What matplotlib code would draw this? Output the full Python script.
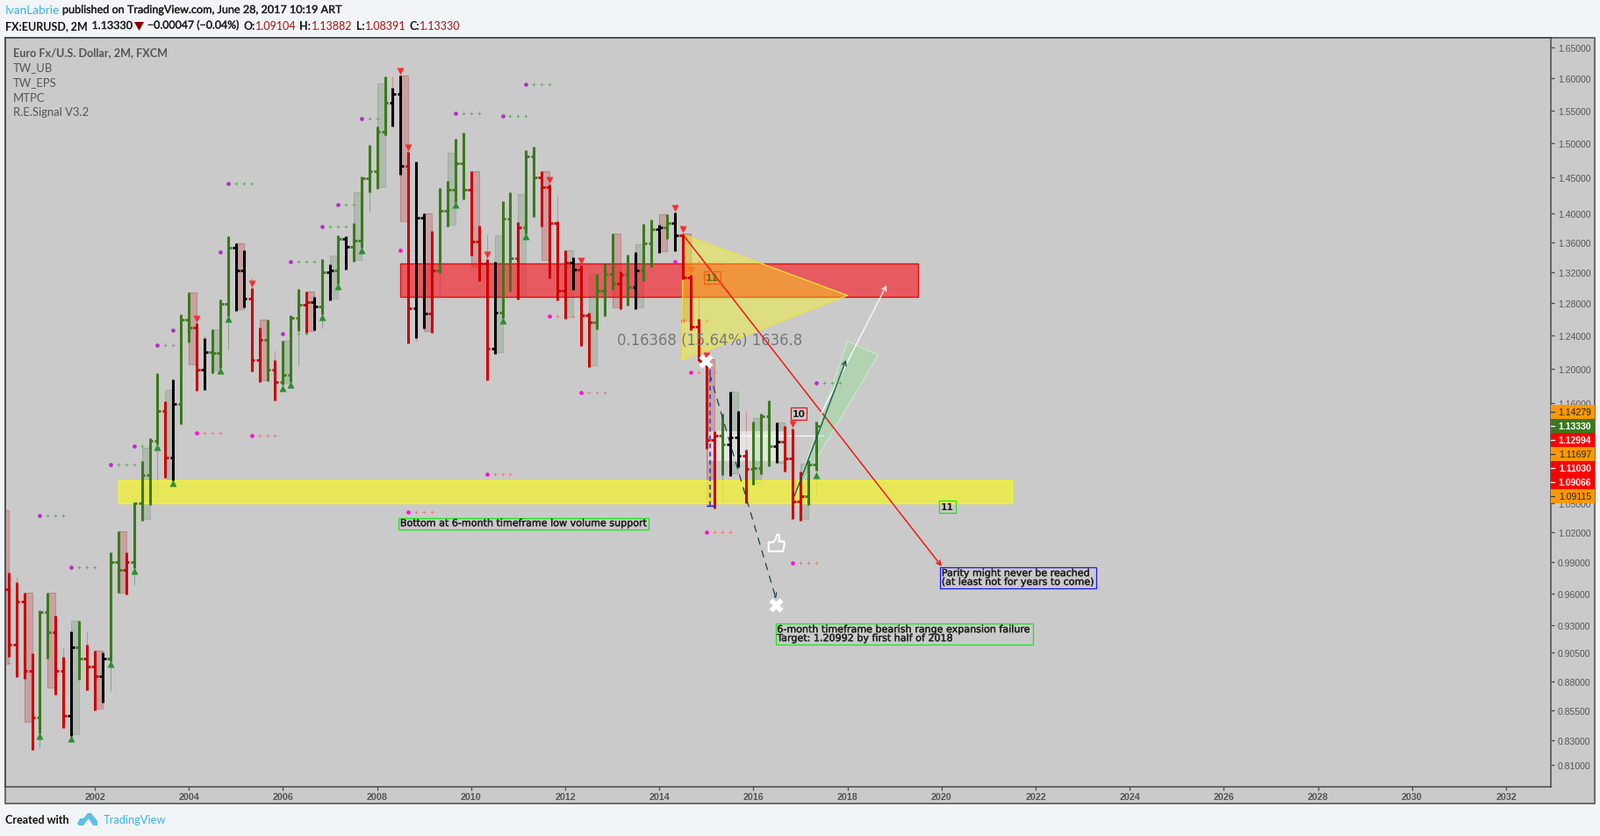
import matplotlib
matplotlib.use('Agg')
import matplotlib.pyplot as plt
import matplotlib.patheffects as pe
from matplotlib.patches import Rectangle, Polygon
from matplotlib.path import Path
from matplotlib.ticker import FixedLocator, NullLocator

# 2 month OHLC, first bar is Mar 2000
first_open = 0.9637
highs = [0.9797, 0.9706, 0.9606, 0.9045, 0.9439, 0.9606, 0.9390, 0.9013, 0.9244, 0.9341, 0.9124, 0.9068, 0.9053,
         0.9998, 1.0209, 0.9998, 1.0504, 1.0946, 1.1197, 1.1943, 1.1611, 1.1867, 1.2657, 1.2936, 1.2547, 1.2366,
         1.2474, 1.2845, 1.3681, 1.3582, 1.3492, 1.2996, 1.2496, 1.2594, 1.2100, 1.2330, 1.2649, 1.2981, 1.2947,
         1.2879, 1.3375, 1.3302, 1.3689, 1.3677, 1.3861, 1.4512, 1.4975, 1.5256, 1.6028, 1.5851, 1.6046, 1.4875,
         1.4729, 1.3994, 1.3752, 1.4353, 1.4453, 1.5070, 1.5163, 1.4592, 1.3824, 1.3375, 1.3340, 1.4166, 1.4290,
         1.3873, 1.4901, 1.4953, 1.4592, 1.4403, 1.3885, 1.3492, 1.3398, 1.3293, 1.2682, 1.3178, 1.3316, 1.3717,
         1.3213, 1.3433, 1.3468, 1.3849, 1.3909, 1.3837, 1.3982, 1.4007, 1.3717, 1.3164, 1.2605, 1.2100, 1.1272,
         1.1473, 1.1726, 1.1504, 1.1068, 1.1383, 1.1473, 1.1624, 1.1373, 1.1334, 1.1305, 1.0832, 1.0953, 1.13882]
lows = [0.9016, 0.8837, 0.8822, 0.8220, 0.8358, 0.8998, 0.8685, 0.8402, 0.8336, 0.8814, 0.8722, 0.8550, 0.8617,
        0.8976, 0.9608, 0.9591, 0.9844, 1.0319, 1.0482, 1.1132, 1.0766, 1.0735, 1.1354, 1.2316, 1.1739, 1.1749,
        1.1946, 1.2005, 1.2638, 1.2708, 1.2749, 1.1966, 1.1842, 1.1852, 1.1627, 1.1807, 1.1839, 1.2452, 1.2433,
        1.2466, 1.2660, 1.2841, 1.3056, 1.3239, 1.3343, 1.3530, 1.4294, 1.4344, 1.5127, 1.5260, 1.4545, 1.2305,
        1.2369, 1.2485, 1.2433, 1.3193, 1.3816, 1.4154, 1.4195, 1.3425, 1.3090, 1.1860, 1.2177, 1.2619, 1.2954,
        1.2852, 1.3720, 1.3950, 1.3812, 1.3121, 1.2838, 1.2605, 1.2973, 1.2270, 1.2016, 1.2474, 1.2638, 1.2973,
        1.2726, 1.2771, 1.2726, 1.3087, 1.3270, 1.3457, 1.3645, 1.3480, 1.3110, 1.2466, 1.2086, 1.1084, 1.0443,
        1.0794, 1.0788, 1.0882, 1.0501, 1.0694, 1.0804, 1.0889, 1.0927, 1.0832, 1.0334, 1.0319, 1.0482, 1.08391]
closes = [0.9122, 0.9520, 0.8886, 0.8486, 0.9420, 0.9234, 0.8886, 0.8501, 0.9098, 0.8995, 0.8925, 0.8846, 0.8995,
          0.9900, 0.9823, 0.9900, 1.0495, 1.0791, 1.1165, 1.1501, 1.0981, 1.1581, 1.2591, 1.2493, 1.1981, 1.2192,
          1.2181, 1.2797, 1.3523, 1.3221, 1.2860, 1.2097, 1.2341, 1.1981, 1.1835, 1.1918, 1.2619, 1.2779, 1.2812,
          1.2757, 1.3198, 1.3221, 1.3642, 1.3535, 1.3621, 1.4487, 1.4592, 1.5176, 1.5614, 1.5751, 1.4665, 1.2734,
          1.3930, 1.2668, 1.3221, 1.4027, 1.4324, 1.4704, 1.4324, 1.3606, 1.3313, 1.2234, 1.2679, 1.3918, 1.3383,
          1.3796, 1.4806, 1.4500, 1.4365, 1.3861, 1.2958, 1.3328, 1.3232, 1.2646, 1.2558, 1.2958, 1.3175, 1.3049,
          1.3164, 1.3004, 1.3221, 1.3582, 1.3773, 1.3800, 1.3861, 1.3689, 1.3129, 1.2503, 1.2093, 1.1181, 1.1223,
          1.1132, 1.1204, 1.1003, 1.0860, 1.0867, 1.1440, 1.1107, 1.1155, 1.0972, 1.0513, 1.0568, 1.09104, 1.13330]
bar_kinds = list('rrrrggrrkgrrkggrggggrkggrkgggkkrrgrgggrkgkgkgggggkkrkkrggggrrrkggrggrrrrkrrgggrgkggkgkrrrrrgkkrgggkrrrgg')

# 6 month bodies drawn behind the bars
box_bars = [-1, 2, 5, 8, 11, 14, 17, 20, 23, 26, 29, 32, 35, 38, 41, 44, 47, 50, 53, 56, 59, 62, 65, 68, 71, 74, 77,
            80, 83, 86, 89, 92, 95, 98, 101]
box_tops = [1.0425, 0.9606, 0.9606, 0.9341, 0.9068, 1.0209, 1.1090, 1.1746, 1.2939, 1.2474, 1.3582, 1.2594, 1.2333,
            1.2950, 1.3422, 1.4290, 1.5921, 1.6042, 1.3994, 1.4862, 1.4592, 1.3693, 1.4265, 1.4592, 1.3492, 1.3178,
            1.3717, 1.3574, 1.3982, 1.3717, 1.2110, 1.1726, 1.1420, 1.1373, 1.0915]
box_bottoms = [0.8951, 0.8451, 0.8745, 0.8350, 0.8565, 0.9608, 1.0337, 1.0760, 1.2050, 1.1971, 1.2729, 1.1859, 1.1831,
               1.2455, 1.2863, 1.3367, 1.4369, 1.3888, 1.2455, 1.3840, 1.3274, 1.2198, 1.2879, 1.3367, 1.2630, 1.2040,
               1.2752, 1.2752, 1.3484, 1.2583, 1.0468, 1.0810, 1.0712, 1.0927, 1.0337]
box_kinds = list('rrrgrrggrgrrgrgggrrgrggrggrgrrrgggg')

# R.E.Signal markers
down_bars = [24, 31, 50, 51, 61, 69, 73, 85, 86, 87, 89, 100]
down_prices = [1.2605, 1.3052, 1.6116, 1.4940, 1.3433, 1.4466, 1.3351, 1.4068, 1.3776, 1.3224, 1.2153, 1.1354]
up_bars = [4, 8, 13, 16, 19, 21, 27, 28, 35, 36, 40, 42, 45, 57, 63, 66, 103]
up_prices = [0.8333, 0.8312, 0.8951, 0.9817, 1.1100, 1.0710, 1.1974, 1.2605, 1.1767, 1.1807, 1.2627, 1.3018, 1.3492,
             1.4117, 1.2583, 1.3681, 1.0794]
green_stems = [(4, 0.8333, 0.8232), (13, 0.8927, 0.8713), (16, 0.9800, 0.9681), (19, 1.1080, 1.0562),
               (28, 1.2583, 1.2227), (37, 1.2452, 1.2037), (40, 1.2594, 1.2485), (46, 1.4290, 1.4018),
               (55, 1.3190, 1.2882), (91, 1.0794, 1.0516), (103, 1.0785, 1.0571)]
pink_stems = [(1, 0.9757, 0.9706), (7, 0.9092, 0.9013), (10, 0.9244, 0.9124), (25, 1.2398, 1.2366),
              (31, 1.3132, 1.2996), (34, 1.2216, 1.2100), (49, 1.6032, 1.5851), (52, 1.2366, 1.2323),
              (61, 1.3705, 1.3375), (70, 1.4253, 1.3885), (88, 1.2894, 1.2605), (94, 1.1504, 1.1068)]
green_dot_bars = [4, 8, 13, 16, 19, 21, 27, 28, 35, 36, 40, 42, 45, 57, 63, 66, 103]
green_dot_prices = [1.0371, 0.9851, 1.0908, 1.1110, 1.2280, 1.2463, 1.3468, 1.4415, 1.2419, 1.3340, 1.3812, 1.4117,
                    1.5375, 1.5456, 1.5415, 1.5907, 1.1828]
red_dot_bars = [-1, 24, 31, 50, 51, 61, 69, 73, 85, 86, 87, 89, 100]
red_dot_prices = [0.8958, 1.1255, 1.1226, 1.3492, 1.0407, 1.0804, 1.2638, 1.1716, 1.3340, 1.2583, 1.1950, 1.0200, 0.9894]

y_ticks = [1.65, 1.6, 1.55, 1.5, 1.45, 1.4, 1.36, 1.32, 1.28, 1.24, 1.2, 1.16, 1.12, 1.08, 1.05, 1.02, 0.99, 0.96,
           0.93, 0.905, 0.88, 0.855, 0.83, 0.81]
x_ticks = list(range(2002, 2033, 2))
tag_labels = ['1.14279', '1.13330', '1.12994', '1.11697', '1.11030', '1.09066', '1.09115']
tag_fills = ['#FF9800', '#3A7A1E', '#FF0000', '#FF9800', '#FF0000', '#FF0000', '#FF9800']
tag_texts = ['#222222', 'white', 'white', '#222222', 'white', 'white', '#222222']
legend_names = ['TW_UB', 'TW_EPS', 'MTPC', 'R.E.Signal V3.2']

W, H = 1824, 953
PLOT_L, PLOT_R, PLOT_T, PLOT_B = 6, 1767, 44, 897
BG = '#CACACA'
FRAME = '#4A4A4A'
PAGE = '#F1F5F8'
BAR_COL = {'g': '#3A7A1A', 'r': '#CC0000', 'k': '#000000'}


def bar_x(i):
    # bar 11 is Jan 2002
    return 2002 + (i - 11) / 6


fig = plt.figure(figsize=(W / 100, H / 100), dpi=100, facecolor=PAGE)

# chrome behind the chart, in pixels
back = fig.add_axes([0, 0, 1, 1], zorder=0)
back.set_xlim(0, W)
back.set_ylim(H, 0)
back.axis('off')
back.add_patch(Rectangle((PLOT_L, PLOT_T), 1817 - PLOT_L, 916 - PLOT_T, fc=BG, ec=FRAME, lw=1.1))

ax = fig.add_axes([PLOT_L / W, 1 - PLOT_B / H, (PLOT_R - PLOT_L) / W, (PLOT_B - PLOT_T) / H], zorder=1)
ax.set_facecolor('none')
ax.set_yscale('log')
ax.set_xlim(2000.097, 2032.95)
ax.set_ylim(0.7924, 1.6659)

# 6 month bodies
for j, top, bottom, kind in zip(box_bars, box_tops, box_bottoms, box_kinds):
    fc = '#C56666' if kind == 'r' else '#89A289'
    ec = '#B87878' if kind == 'r' else '#98A898'
    ax.add_patch(Rectangle((bar_x(j), bottom), bar_x(j + 1) - bar_x(j), top - bottom, fc=fc, ec='none', alpha=0.4, zorder=2))
    ax.add_patch(Rectangle((bar_x(j), bottom), bar_x(j + 1) - bar_x(j), top - bottom, fc='none', ec=ec, lw=0.8, alpha=0.7, zorder=2))

# signal stems, triangles, dots
for stems, col in [(green_stems, '#8FA58F'), (pink_stems, '#D58C8C')]:
    ax.vlines([bar_x(s[0]) for s in stems], [s[2] for s in stems], [s[1] for s in stems], colors=col, lw=0.8, zorder=2.5)
ax.plot([bar_x(i) for i in down_bars], down_prices, ls='none', marker='v', ms=5.5, mfc='#FF2A2A', mec='none', zorder=3)
ax.plot([bar_x(i) for i in up_bars], up_prices, ls='none', marker='^', ms=5.5, mfc='#2B8F2B', mec='none', zorder=3)
for bars, prices, dot_col, plus_col in [(green_dot_bars, green_dot_prices, '#B030C8', '#55A855'),
                                        (red_dot_bars, red_dot_prices, '#FF10D0', '#F07070')]:
    ax.plot([bar_x(i) for i in bars], prices, ls='none', marker='o', ms=3.4, mfc=dot_col, mec='none', zorder=3)
    for step in (1, 2, 3):
        ax.plot([bar_x(i + step) for i in bars], prices, ls='none', marker='+', ms=2.3, mew=0.55, mec=plus_col, zorder=3)

# drawings under the bars
ax.add_patch(Rectangle((2015.04, 1.1070), 1.61, 0.0202, fc='white', ec='none', alpha=0.5, zorder=2.6))
ax.add_patch(Rectangle((2015.04, 1.0949), 1.61, 0.0121, fc='white', ec='none', alpha=0.5, zorder=2.6))
ax.plot([2015.04, 2017.49], [1.1223, 1.1223], color='white', lw=0.9, zorder=2.7)
ax.add_patch(Rectangle((2008.5, 1.2879), 10.99, 0.0437, fc=(248 / 255, 30 / 255, 39 / 255), ec='none', alpha=0.65, zorder=2.8))
ax.add_patch(Rectangle((2008.5, 1.2879), 10.99, 0.0437, fc='none', ec='#E01010', lw=1, zorder=2.8))
ax.add_patch(Rectangle((2002.5, 1.0501), 18.99, 0.0234, fc=(242 / 255, 242 / 255, 50 / 255), ec='none', alpha=0.75, zorder=2.8))
ax.add_patch(Rectangle((2002.5, 1.0501), 18.99, 0.0234, fc='none', ec='#F7F720', lw=1, zorder=2.8))
ax.add_patch(Polygon([(2016.87, 1.0572), (2018.0, 1.2330), (2018.65, 1.2160)], fc=(122 / 255, 235 / 255, 122 / 255),
                     ec='none', alpha=0.3, zorder=2.9))
ax.add_patch(Polygon([(2016.87, 1.0572), (2018.0, 1.2330), (2018.65, 1.2160)], fc='none', ec='#CFE8CF', lw=0.8, zorder=2.9))
ax.add_patch(Polygon([(2014.5, 1.3705), (2018.0, 1.2902), (2014.49, 1.2102)], fc='#FFFF00', ec='none', alpha=0.36, zorder=3.2))
ax.add_patch(Polygon([(2014.5, 1.3705), (2018.0, 1.2902), (2014.49, 1.2102)], fc='none', ec='#F2E23A', lw=0.9, zorder=3.2))

# OHLC bars
xs = [bar_x(i) for i in range(len(closes))]
opens = [first_open] + closes[:-1]
cols = [BAR_COL[k] for k in bar_kinds]
ax.vlines(xs, lows, highs, colors=cols, lw=2.2, capstyle='butt', zorder=5)
ax.hlines(opens, [x - 0.07 for x in xs], xs, colors=cols, lw=2.0, capstyle='butt', zorder=5)
ax.hlines(closes, xs, [x + 0.07 for x in xs], colors=cols, lw=2.0, capstyle='butt', zorder=5)

# measure text
ax.text(2013.10, 1.2344, '0.16368 (15.64%) 1636.8', fontsize=11.9, color='#777777', va='center', ha='left', zorder=5.5,
        family='DejaVu Sans')

# arrows and dashes
ax.vlines([bar_x(89.5)], [1.0468], [1.2110], colors='#5050E0', lw=1.5, linestyles=(0, (2.5, 2)), zorder=5.6)
ax.hlines([1.0468], [bar_x(89)], [bar_x(90)], colors='#2020E0', lw=1, zorder=5.6)
ax.annotate('', xy=(2020.0, 0.9862), xytext=(2014.5, 1.3705), zorder=6,
            arrowprops=dict(arrowstyle='->', color='#F01818', lw=1.1, shrinkA=0, shrinkB=0, mutation_scale=9))
ax.annotate('', xy=(2018.83, 1.3033), xytext=(2017.44, 1.1476), zorder=6,
            arrowprops=dict(arrowstyle='->', color='white', lw=0.9, shrinkA=0, shrinkB=0, mutation_scale=9))
ax.annotate('', xy=(2017.97, 1.2102), xytext=(2016.87, 1.0572), zorder=6,
            arrowprops=dict(arrowstyle='->', color='#1D5A50', lw=1.0, shrinkA=0, shrinkB=0, mutation_scale=9))
ax.annotate('', xy=(2016.48, 0.9550), xytext=(2014.99, 1.2086), zorder=6,
            arrowprops=dict(arrowstyle='->', color='#1C3F4A', lw=0.9, ls=(0, (6, 6)), shrinkA=0, shrinkB=0, mutation_scale=9))
ax.plot([2014.99, 2016.48], [1.2086, 0.9489], ls='none', marker='X', ms=11, mfc='white', mec='none', zorder=7)
thumb = Path([(-0.9, -0.95), (-0.9, 0.1), (-0.35, 0.1), (-0.05, 0.5), (0.05, 1.0), (0.3, 1.0), (0.35, 0.55), (0.3, 0.2),
              (0.9, 0.2), (0.95, -0.1), (0.8, -0.95), (-0.9, -0.95)], closed=True)
ax.plot([2016.48], [1.0095], ls='none', marker=thumb, ms=14, mfc='none', mec='white', mew=1.5, zorder=7)

# text notes
bold_fx = [pe.withStroke(linewidth=0.3, foreground='#222222')]
note = dict(fontsize=8, color='#222222', family='DejaVu Sans', va='center', ha='left', linespacing=1.0, zorder=8,
            path_effects=bold_fx)
ax.text(2008.49, 1.0289, 'Bottom at 6-month timeframe low volume support',
        bbox=dict(fc='none', ec='#19E619', lw=0.9, pad=1.2), **note)
ax.text(2020.0, 0.9749, 'Parity might never be reached\n(at least not for years to come)',
        bbox=dict(fc='none', ec='#1818F0', lw=0.9, pad=1.2), **note)
ax.text(2016.5, 0.9220, '6-month timeframe bearish range expansion failure\nTarget: 1.20992 by first half of 2018',
        bbox=dict(fc='none', ec='#19E619', lw=0.9, pad=1.2), **note)
count = dict(fontsize=7.8, weight='bold', family='DejaVu Sans', va='center', ha='center', zorder=8)
ax.text(2016.96, 1.1473, '10', color='#222222', bbox=dict(fc='none', ec='#F01010', lw=0.9, pad=1.3), **count)
ax.text(2015.13, 1.3135, '11', color='#6B6B10', bbox=dict(fc='none', ec='#F06010', lw=0.9, pad=1.3), **count)
ax.text(2020.12, 1.0461, '11', color='#222222', bbox=dict(fc='none', ec='#19E619', lw=0.9, pad=1.3), **count)

# axes
ax.yaxis.tick_right()
ax.yaxis.set_major_locator(FixedLocator(y_ticks))
ax.yaxis.set_minor_locator(NullLocator())
ax.set_yticklabels(['%.5f' % v for v in y_ticks], fontsize=7.5, family='Liberation Sans', color='#555555')
ax.xaxis.set_major_locator(FixedLocator(x_ticks))
ax.xaxis.set_minor_locator(NullLocator())
ax.set_xticklabels([str(v) for v in x_ticks], fontsize=7.7, family='Liberation Sans', color='#555555', weight='bold')
ax.tick_params(axis='y', length=2.8, width=0.9, color=FRAME, pad=3)
ax.tick_params(axis='x', length=2.8, width=0.9, color=FRAME, pad=1.5)
for side in ax.spines.values():
    side.set_color(FRAME)
    side.set_linewidth(1.1)

# chrome in front of the chart, in pixels
top = fig.add_axes([0, 0, 1, 1], zorder=3)
top.set_xlim(0, W)
top.set_ylim(H, 0)
top.axis('off')
top.patch.set_visible(False)

for n, (label, fill, tcol) in enumerate(zip(tag_labels, tag_fills, tag_texts)):
    y0 = 462 + n * 16
    top.add_patch(Rectangle((PLOT_R, y0), 1817 - PLOT_R, 16, fc=fill, ec='none'))
    top.plot([PLOT_R, PLOT_R + 4], [y0 + 8, y0 + 8], color='#333333' if tcol != 'white' else 'white', lw=0.9)
    top.text(1813, y0 + 8, label, fontsize=7.5, family='Liberation Sans', color=tcol, ha='right', va='center',
             weight='bold' if tcol == 'white' else 'normal')

head = dict(family='Lato', va='center', ha='left')
dark_fx = [pe.withStroke(linewidth=0.25, foreground='#222222')]
top.text(6, 12, 'IvanLabrie', fontsize=9.8, color='#3BB3E4', **head)
top.text(71, 12, 'published on TradingView.com, June 28, 2017 10:19 ART', fontsize=9.07, color='#222222',
         path_effects=dark_fx, **head)
top.text(6, 30, 'FX:EURUSD, 2M', fontsize=9.0, color='#111111', weight='bold', **head)
top.text(104.5, 30, '1.13330', fontsize=9.0, color='#222222', path_effects=dark_fx, **head)
top.add_patch(Polygon([(153, 26), (164, 26), (158.5, 36)], fc='#8B0000', ec='none'))
top.text(168, 30, '\u22120.00047 (\u22120.04%)', fontsize=8.9, color='#222222', path_effects=dark_fx, **head)
for label, lx, value, vx in [('O:', 277.5, '1.09104', 291), ('H:', 341, '1.13882', 354.7),
                             ('L:', 406, '1.08391', 416.4), ('C:', 466.6, '1.13330', 478)]:
    top.text(lx, 30, label, fontsize=9.0, color='#111111', weight='bold', **head)
    top.text(vx, 30, value, fontsize=9.0, color='#B00E0E', **head)

top.text(15, 60.5, 'Euro Fx/U.S. Dollar, 2M, FXCM', fontsize=9.1, color='#555555', weight='bold', **head)
for n, name in enumerate(legend_names):
    top.text(15, 77.5 + n * 17, name, fontsize=9.4, color='#555555', **head)

top.text(6, 934, 'Created with', fontsize=9.0, color='#111111', weight='bold', **head)
top.text(118, 934, 'TradingView', fontsize=9.3, color='#3BB3E4', **head)
top.add_patch(Polygon([(88, 939), (91, 933), (95, 933), (100, 927), (104, 927), (111, 936), (111, 941), (106, 941),
                       (101, 933), (95, 941), (90, 941)], fc='#5DBFE6', ec='none'))

fig.savefig('out.png', dpi=100, facecolor=PAGE)
